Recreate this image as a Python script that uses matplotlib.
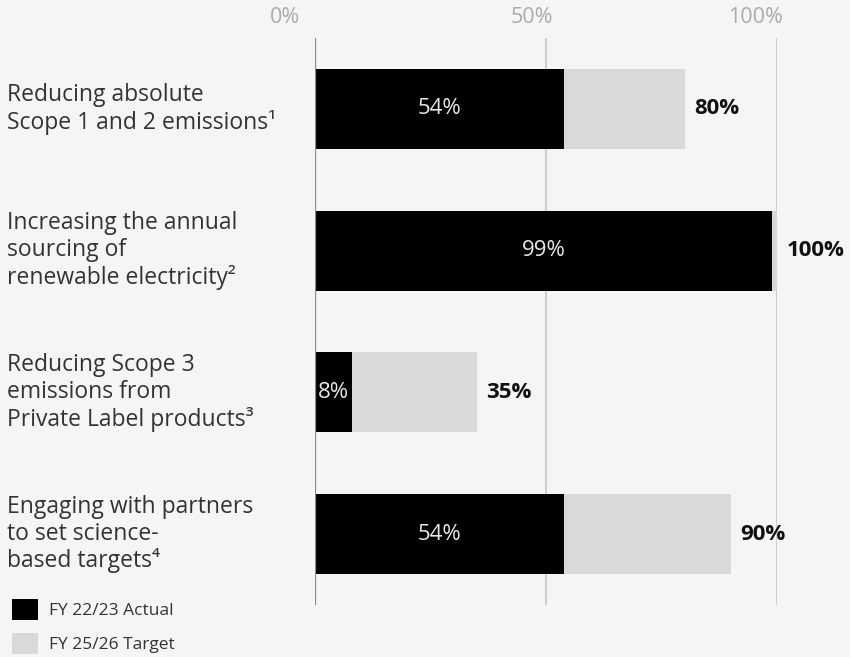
import matplotlib.pyplot as plt
from matplotlib.patches import Patch
import matplotlib.transforms as mtransforms

plt.rcParams['font.family'] = ['Open Sans', 'DejaVu Sans']

categories = ['Reducing absolute\nScope 1 and 2 emissions¹',
              'Increasing the annual\nsourcing of\nrenewable electricity²',
              'Reducing Scope 3\nemissions from\nPrivate Label products³',
              'Engaging with partners\nto set science-\nbased targets⁴']
actual = [54, 99, 8, 54]
target = [80, 100, 35, 90]
tick_vals = [0, 50, 100]
tick_labels = ['0%', '50%', '100%']

bg = '#f5f5f5'
fig = plt.figure(figsize=(8.5, 6.57), dpi=100, facecolor=bg)
ax = fig.add_axes([315 / 850, 52 / 657, 462 / 850, 567 / 657])
ax.set_facecolor(bg)

ypos = list(range(len(categories)))
ax.barh(ypos, target, height=0.565, color='#d9d9d9', zorder=2)
ax.barh(ypos, actual, height=0.565, color='#000000', zorder=3)

ax.set_xlim(0, 100)
ax.set_ylim(3.5, -0.5)

# grid lines
ax.axvline(50, color='#c4c4c4', lw=1.2, zorder=1)
ax.axvline(100, color='#c4c4c4', lw=1.2, zorder=1)
ax.axvline(0, color='#8a8a8a', lw=1.6, zorder=4)

for s in ax.spines.values():
    s.set_visible(False)

ax.set_yticks([])
ax.set_xticks(tick_vals)
ax.set_xticklabels(tick_labels, fontsize=15.5, color='#ababab')
ax.xaxis.tick_top()
ax.tick_params(axis='x', length=0, pad=7)
# labels sit a bit left of their grid lines
shifts = [-30, -14, -22]
for lab, dx in zip(ax.get_xticklabels(), shifts):
    lab.set_transform(lab.get_transform() + mtransforms.ScaledTranslation(dx / 100, 0, fig.dpi_scale_trans))

for y, a, t, c in zip(ypos, actual, target, categories):
    ax.text(a / 2, y, f'{a}%', ha='center', va='center', color='#e8e8e8',
            fontsize=16, zorder=5)
    ax.text(t + 2, y, f'{t}%', ha='left', va='center', color='#111111',
            fontsize=16, fontweight='bold', zorder=5, clip_on=False)
    # category label at left edge of figure
    ax.text(7 / 850, y, c, transform=mtransforms.blended_transform_factory(fig.transFigure, ax.transData),
            ha='left', va='center', fontsize=16.5, color='#333333',
            linespacing=1.15)

handles = [Patch(facecolor='#000000', label='FY 22/23 Actual'),
           Patch(facecolor='#d9d9d9', label='FY 25/26 Target')]
fig.legend(handles=handles, loc='lower left', bbox_to_anchor=(0.0, -0.014), frameon=False,
           fontsize=12.5, labelcolor='#333333', handlelength=1.5, handleheight=1.45,
           handletextpad=0.6, labelspacing=0.78, borderaxespad=0.3)

fig.savefig('out.png', dpi=100, facecolor=bg)
